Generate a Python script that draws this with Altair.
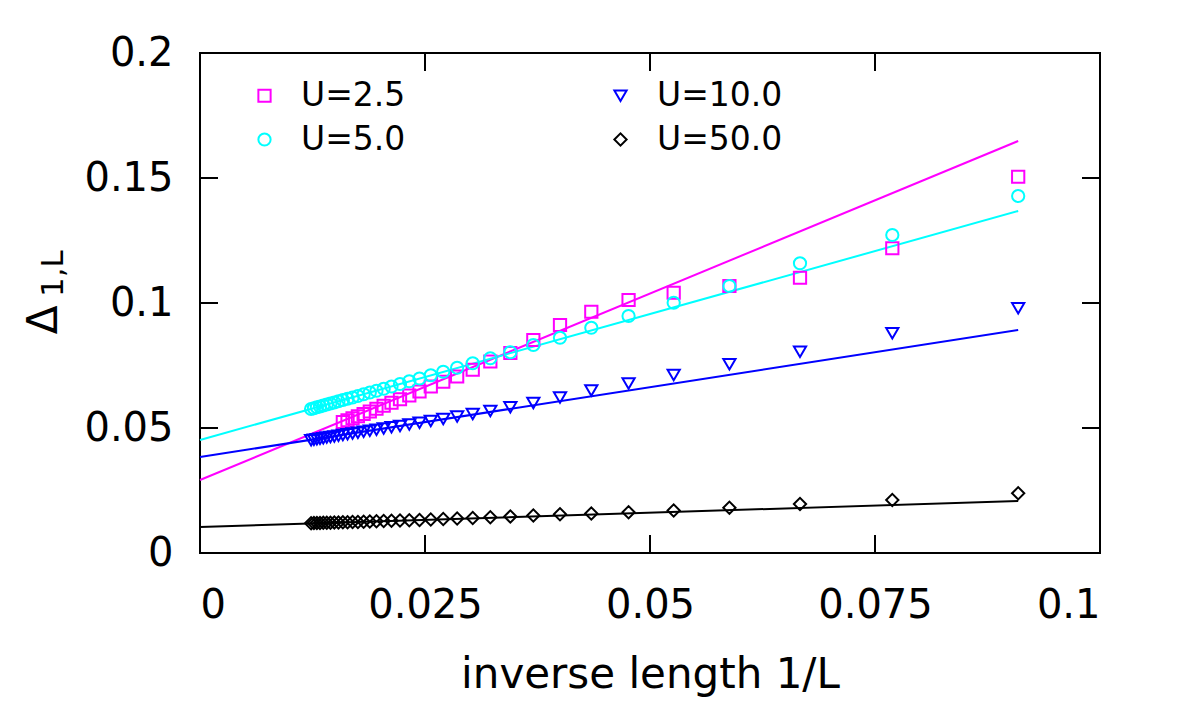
import altair as alt
import pandas as pd

FONT = "DejaVu Sans"

# chain lengths (x = 1/L)
L_long = [11, 13, 15, 17, 19, 21, 23, 25, 27, 29, 31, 33, 35, 37, 39, 41, 43, 45,
          47, 49, 51, 53, 55, 57, 59, 61, 63, 65, 67, 69, 71, 73, 75, 77, 79, 81]
L_short = [11, 13, 15, 17, 19, 21, 23, 25, 27, 29, 31, 33, 35, 37, 39, 41, 43, 45,
           47, 49, 51, 53, 55, 57, 59, 61, 63]

gap_u25 = [0.1505, 0.1219, 0.1101, 0.1068, 0.1041, 0.1012, 0.0965, 0.0912, 0.0852,
           0.0800, 0.0766, 0.0733, 0.0706, 0.0685, 0.0666, 0.0646, 0.0630, 0.0615,
           0.0601, 0.0589, 0.0577, 0.0566, 0.0556, 0.0547, 0.0539, 0.0531, 0.0524]
gap_u5 = [0.1428, 0.1272, 0.1159, 0.1068, 0.1001, 0.0948, 0.0901, 0.0861, 0.0832,
          0.0803, 0.0779, 0.0759, 0.0741, 0.0725, 0.0711, 0.0698, 0.0687, 0.0676,
          0.0666, 0.0657, 0.0649, 0.0642, 0.0635, 0.0628, 0.0622, 0.0617, 0.0612,
          0.0607, 0.0602, 0.0598, 0.0594, 0.0590, 0.0586, 0.0583, 0.0579, 0.0576]
gap_u10 = [0.0979, 0.0879, 0.0805, 0.0755, 0.0712, 0.0678, 0.0650, 0.0622, 0.0600,
           0.0583, 0.0568, 0.0556, 0.0546, 0.0536, 0.0528, 0.0521, 0.0514, 0.0508,
           0.0503, 0.0498, 0.0493, 0.0489, 0.0485, 0.0481, 0.0478, 0.0475, 0.0472,
           0.0469, 0.0466, 0.0464, 0.0462, 0.0459, 0.0457, 0.0455, 0.0453, 0.0451]
gap_u50 = [0.0239, 0.0212, 0.0196, 0.0181, 0.0170, 0.0163, 0.0158, 0.0155, 0.0150,
           0.0146, 0.0143, 0.0140, 0.0138, 0.0136, 0.0134, 0.0132, 0.0131, 0.0130,
           0.0129, 0.0128, 0.0127, 0.0126, 0.0125, 0.0124, 0.0124, 0.0123, 0.0123,
           0.0122, 0.0122, 0.0121, 0.0121, 0.0121, 0.0120, 0.0120, 0.0120, 0.0119]

# linear fits: value at 1/L = 0 and at 1/L = 1/11
series_labels = ["U=2.5", "U=5.0", "U=10.0", "U=50.0"]
series_colors = ["#ff00ff", "#00ffff", "#0000ff", "#000000"]
series_shapes = ["square", "circle", "triangle-down", "diamond"]
fit_at_zero = [0.0292, 0.0452, 0.0384, 0.0104]
fit_at_end = [0.1648, 0.1368, 0.0892, 0.0208]
fit_x_end = 1 / 11

x_ticks = [0, 0.025, 0.05, 0.075, 0.1]
y_ticks = [0, 0.05, 0.1, 0.15, 0.2]
x_inner_ticks = [0.025, 0.05, 0.075]
y_inner_ticks = [0.05, 0.1, 0.15]
x_title = "inverse length 1/L"
y_title_main = "Δ"
y_title_sub = "1,L"

rows = []
for lab, Ls, vals in [("U=2.5", L_short, gap_u25), ("U=5.0", L_long, gap_u5),
                      ("U=10.0", L_long, gap_u10), ("U=50.0", L_long, gap_u50)]:
    for L, v in zip(Ls, vals):
        rows.append({"series": lab, "x": 1.0 / L, "y": v})
df_pts = pd.DataFrame(rows)

fit_rows = []
for lab, a, b in zip(series_labels, fit_at_zero, fit_at_end):
    fit_rows.append({"series": lab, "x": 0.0, "y": a})
    fit_rows.append({"series": lab, "x": fit_x_end, "y": b})
df_fit = pd.DataFrame(fit_rows)

W, H = 900, 500
TICK = 18

xs = alt.Scale(domain=[0, 0.1], nice=False, zero=False)
ys = alt.Scale(domain=[0, 0.2], nice=False, zero=False)

x_axis = alt.Axis(values=x_ticks, format=".3~f", ticks=False, grid=False, domain=False,
                  labelFontSize=40, labelFont=FONT, labelPadding=32, labelColor="black",
                  title=x_title, titleFontSize=42, titleFont=FONT, titleFontWeight="normal",
                  titlePadding=29, titleColor="black")
y_axis = alt.Axis(values=y_ticks, format=".2~f", ticks=False, grid=False, domain=False,
                  labelFontSize=40, labelFont=FONT, labelPadding=27, labelColor="black",
                  title=None)

leg = alt.Legend(orient="none", legendX=48, legendY=26, columns=2, title=None,
                 symbolSize=150, symbolStrokeWidth=2, labelFontSize=33, labelFont=FONT,
                 labelColor="black", labelOffset=20, columnPadding=198, rowPadding=10,
                 padding=0, symbolFillColor="transparent")

points = alt.Chart(df_pts).mark_point(filled=False, size=150, strokeWidth=2, opacity=1).encode(
    x=alt.X("x:Q", scale=xs, axis=x_axis, title=x_title),
    y=alt.Y("y:Q", scale=ys, axis=y_axis),
    color=alt.Color("series:N", scale=alt.Scale(domain=series_labels, range=series_colors), legend=leg),
    shape=alt.Shape("series:N", scale=alt.Scale(domain=series_labels, range=series_shapes), legend=leg),
)

line_layers = []
for lab, col in zip(series_labels, series_colors):
    line_layers.append(
        alt.Chart(df_fit).transform_filter(alt.datum.series == lab)
        .mark_line(strokeWidth=2, color=col)
        .encode(x=alt.X("x:Q", scale=xs, axis=x_axis, title=x_title),
                y=alt.Y("y:Q", scale=ys, axis=y_axis))
    )

xt = alt.Chart(pd.DataFrame({"x": x_inner_ticks})).mark_rule(color="black", strokeWidth=2)
tick_bottom = xt.encode(x=alt.X("x:Q", scale=xs, axis=x_axis, title=x_title),
                        y=alt.value(H), y2=alt.value(H - TICK))
tick_top = xt.encode(x=alt.X("x:Q", scale=xs, axis=x_axis, title=x_title),
                     y=alt.value(0), y2=alt.value(TICK))
yt = alt.Chart(pd.DataFrame({"y": y_inner_ticks})).mark_rule(color="black", strokeWidth=2)
tick_left = yt.encode(y=alt.Y("y:Q", scale=ys, axis=y_axis), x=alt.value(0), x2=alt.value(TICK))
tick_right = yt.encode(y=alt.Y("y:Q", scale=ys, axis=y_axis), x=alt.value(W), x2=alt.value(W - TICK))

title_main = alt.Chart(pd.DataFrame({"t": [y_title_main]})).mark_text(
    angle=270, align="center", baseline="middle", fontSize=42, font=FONT, color="black"
).encode(text="t:N", x=alt.value(-156), y=alt.value(267))
title_sub = alt.Chart(pd.DataFrame({"t": [y_title_sub]})).mark_text(
    angle=270, align="left", baseline="middle", fontSize=31, font=FONT, color="black"
).encode(text="t:N", x=alt.value(-146), y=alt.value(244))

chart = alt.layer(
    *line_layers, points, tick_bottom, tick_top, tick_left, tick_right, title_main, title_sub
).properties(
    width=W, height=H,
    padding={"left": 200, "top": 53, "right": 80, "bottom": 156},
    autosize=alt.AutoSizeParams(type="none"),
    background="white",
).configure_view(stroke="black", strokeWidth=2)

chart.save("out.html", embed_options={"renderer": "svg", "actions": False})
